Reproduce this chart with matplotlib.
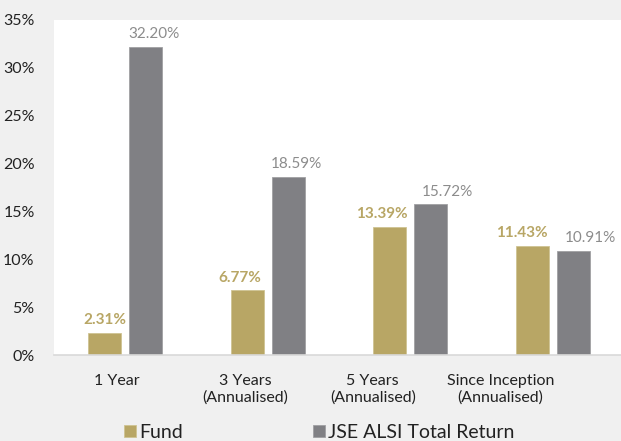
import numpy as np
import matplotlib.pyplot as plt

categories = ["1 Year", "3 Years\n(Annualised)", "5 Years\n(Annualised)",
              "Since Inception\n(Annualised)"]
fund = [2.31, 6.77, 13.39, 11.43]
alsi = [32.20, 18.59, 15.72, 10.91]
yticks = [0, 5, 10, 15, 20, 25, 30, 35]

gold = "#B8A665"
grey = "#808084"
bg = "#F0F0F0"

plt.rcParams['font.family'] = ['Lato', 'DejaVu Sans']

fig = plt.figure(figsize=(6.21, 4.41), dpi=100, facecolor=bg)
ax = fig.add_axes([0.087, 0.195, 0.913, 0.76])
ax.set_facecolor("white")

x = np.arange(len(categories))
w = 0.231
off = 0.144
b1 = ax.bar(x - off, fund, w, color=gold, edgecolor="#CFC392", linewidth=0.6, label="Fund")
b2 = ax.bar(x + off, alsi, w, color=grey, edgecolor="#A0A0A3", linewidth=0.6,
            label="JSE ALSI Total Return")

# labels nudged sideways (points) like the original so they don't collide
fund_dx = [0, -5, -6, -8]
alsi_dx = [6, 6, 12, 12]
for xi, v, dx in zip(x - off, fund, fund_dx):
    ax.annotate(f"{v:.2f}%", (xi, v), xytext=(dx, 4), textcoords="offset points",
                ha="center", va="bottom", color=gold, fontsize=11, fontweight="bold")
for xi, v, dx in zip(x + off, alsi, alsi_dx):
    ax.annotate(f"{v:.2f}%", (xi, v), xytext=(dx, 4), textcoords="offset points",
                ha="center", va="bottom", color="#8C8C8C", fontsize=11)

ax.set_xlim(-0.4975, 3.476)
ax.set_ylim(0, 35)
ax.set_yticks(yticks)
ax.set_yticklabels([f"{t}%" for t in yticks], fontsize=11.5, color="#222222")
# category labels sit a bit left of the bar pairs in the original
ax.set_xticks(x * 0.896 - 0.056)
ax.set_xticklabels(categories, fontsize=11.5, color="#222222", linespacing=1.2)
ax.tick_params(axis="x", length=0, pad=14)
ax.tick_params(axis="y", length=0, pad=14)
for s in ["top", "right", "left"]:
    ax.spines[s].set_visible(False)
ax.spines["bottom"].set_color("#D9D9D9")
ax.spines["bottom"].set_linewidth(1.2)

fig.legend(handles=[b1, b2], loc="lower center", bbox_to_anchor=(0.514, -0.04),
           ncol=2, frameon=False, fontsize=14, handlelength=0.6, handleheight=0.6,
           handletextpad=0.15, columnspacing=6.7, labelcolor="#222222")

fig.savefig("out.png", dpi=100, facecolor=bg)
